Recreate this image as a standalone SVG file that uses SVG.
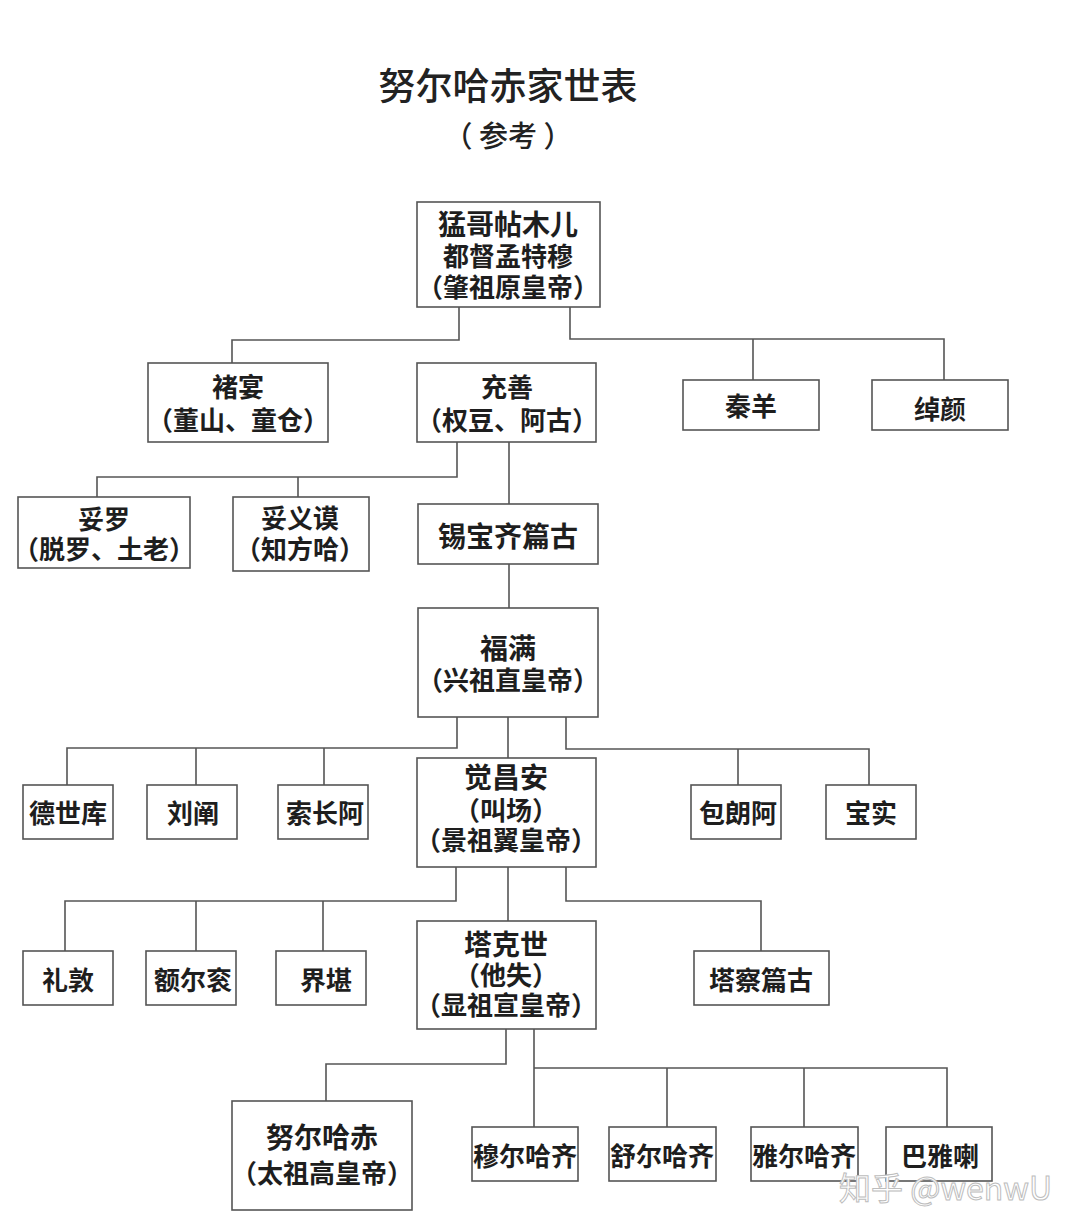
<svg xmlns="http://www.w3.org/2000/svg" width="1080" height="1231" viewBox="0 0 1080 1231">
<style>
.bg{fill:#ffffff}
.box{fill:#ffffff;stroke:#555;stroke-width:1.6}
.t{font-family:"Noto Sans CJK SC","Liberation Serif",serif;font-weight:700;font-size:26px;fill:#1e1e1e;text-anchor:middle}
.big{font-size:28px}
.title{font-family:"Noto Sans CJK SC","Liberation Sans",sans-serif;font-weight:500;font-size:37px;fill:#222;text-anchor:middle}
.sub{font-family:"Noto Sans CJK SC","Liberation Sans",sans-serif;font-weight:500;font-size:29px;fill:#222;text-anchor:middle}
.conn path{fill:none;stroke:#555;stroke-width:1.6}
.wm{font-family:"Noto Sans CJK SC","Liberation Sans",sans-serif;font-size:32px;fill:#ffffff;stroke:#bdbdbd;stroke-width:1;text-anchor:start}
</style>
<rect class="bg" x="0" y="0" width="1080" height="1231"/>
<g id="title">
<text class="title" x="508" y="100">努尔哈赤家世表</text>
<text class="sub" x="508" y="147">（ 参考 ）</text>
</g>
<g class="conn" id="connectors">
<path d="M459 307 V340 H232 V363"/>
<path d="M570 307 V339 H944 V380 M753 339 V380"/>
<path d="M457 442 V477 H97 V497 M298 477 V497"/>
<path d="M509 442 V504"/>
<path d="M509 564 V608"/>
<path d="M457 717 V748 H67 V785 M196 748 V785 M324 748 V785"/>
<path d="M508 717 V758"/>
<path d="M566 717 V749 H869 V785 M738 749 V785"/>
<path d="M456 867 V901 H65 V951 M196 901 V951 M323 901 V951"/>
<path d="M508 867 V921"/>
<path d="M566 867 V901 H761 V951"/>
<path d="M506 1029 V1064 H326 V1101"/>
<path d="M534 1029 V1127 M534 1068 H947 V1127 M667 1068 V1127 M804 1068 V1127"/>
</g>
<g id="n_menggetiemuer"><rect class="box" x="417" y="202" width="183" height="105"/>
<text class="t" x="508" y="235"><tspan class="big">猛哥帖木儿</tspan><tspan x="508" dy="31">都督孟特穆</tspan><tspan x="508" dy="31">（肇祖原皇帝）</tspan></text></g>
<g id="n_chuyan"><rect class="box" x="148" y="363" width="180" height="79"/>
<text class="t" x="238" y="397">褚宴<tspan x="238" dy="33">（董山、童仓）</tspan></text></g>
<g id="n_chongshan"><rect class="box" x="417" y="363" width="179" height="79"/>
<text class="t" x="507" y="397">充善<tspan x="507" dy="33">（权豆、阿古）</tspan></text></g>
<g id="n_qinyang"><rect class="box" x="683" y="380" width="136" height="50"/>
<text class="t" x="751" y="416">秦羊</text></g>
<g id="n_chuoyan"><rect class="box" x="872" y="380" width="136" height="50"/>
<text class="t" x="940" y="419">绰颜</text></g>
<g id="n_tuoluo"><rect class="box" x="18" y="497" width="172" height="71"/>
<text class="t" x="104" y="529">妥罗<tspan x="104" dy="30">（脱罗、土老）</tspan></text></g>
<g id="n_tuoyimo"><rect class="box" x="233" y="497" width="136" height="74"/>
<text class="t" x="300" y="528">妥义谟<tspan x="300" dy="31">（知方哈）</tspan></text></g>
<g id="n_xibaoqipiangu"><rect class="box" x="418" y="504" width="180" height="60"/>
<text class="t big" x="508" y="547">锡宝齐篇古</text></g>
<g id="n_fuman"><rect class="box" x="418" y="608" width="180" height="109"/>
<text class="t" x="508" y="659"><tspan class="big">福满</tspan><tspan x="508" dy="31">（兴祖直皇帝）</tspan></text></g>
<g id="n_deshiku"><rect class="box" x="23" y="785" width="90" height="54"/>
<text class="t" x="68" y="823">德世库</text></g>
<g id="n_liuchan"><rect class="box" x="147" y="785" width="90" height="54"/>
<text class="t" x="193" y="823">刘阐</text></g>
<g id="n_suochanga"><rect class="box" x="278" y="785" width="90" height="54"/>
<text class="t" x="325" y="823">索长阿</text></g>
<g id="n_juechangan"><rect class="box" x="417" y="758" width="179" height="109"/>
<text class="t" x="506" y="788"><tspan class="big">觉昌安</tspan><tspan x="506" dy="32">（叫场）</tspan><tspan x="506" dy="30">（景祖翼皇帝）</tspan></text></g>
<g id="n_baolanga"><rect class="box" x="691" y="785" width="90" height="54"/>
<text class="t" x="738" y="823">包朗阿</text></g>
<g id="n_baoshi"><rect class="box" x="826" y="785" width="90" height="54"/>
<text class="t" x="871" y="823">宝实</text></g>
<g id="n_lidun"><rect class="box" x="23" y="951" width="90" height="54"/>
<text class="t" x="68" y="990">礼敦</text></g>
<g id="n_eergun"><rect class="box" x="146" y="951" width="90" height="54"/>
<text class="t" x="193" y="990">额尔衮</text></g>
<g id="n_jiekan"><rect class="box" x="276" y="951" width="90" height="54"/>
<text class="t" x="326" y="990">界堪</text></g>
<g id="n_takeshi"><rect class="box" x="417" y="921" width="179" height="108"/>
<text class="t" x="506" y="955"><tspan class="big">塔克世</tspan><tspan x="506" dy="30">（他失）</tspan><tspan x="506" dy="30">（显祖宣皇帝）</tspan></text></g>
<g id="n_tachapiangu"><rect class="box" x="694" y="951" width="135" height="54"/>
<text class="t" x="761" y="990">塔察篇古</text></g>
<g id="n_nurhachi"><rect class="box" x="232" y="1101" width="180" height="109"/>
<text class="t" x="322" y="1148"><tspan class="big">努尔哈赤</tspan><tspan x="322" dy="35">（太祖高皇帝）</tspan></text></g>
<g id="n_muerhaqi"><rect class="box" x="472" y="1127" width="106" height="54"/>
<text class="t" x="525" y="1166">穆尔哈齐</text></g>
<g id="n_shuerhaqi"><rect class="box" x="609" y="1127" width="107" height="54"/>
<text class="t" x="662" y="1166">舒尔哈齐</text></g>
<g id="n_yaerhaqi"><rect class="box" x="751" y="1127" width="107" height="54"/>
<text class="t" x="804" y="1166">雅尔哈齐</text></g>
<g id="n_bayala"><rect class="box" x="886" y="1127" width="106" height="54"/>
<text class="t" x="940" y="1166">巴雅喇</text></g>
<text class="wm" x="839" y="1200">知乎 @wenwU</text>
</svg>
